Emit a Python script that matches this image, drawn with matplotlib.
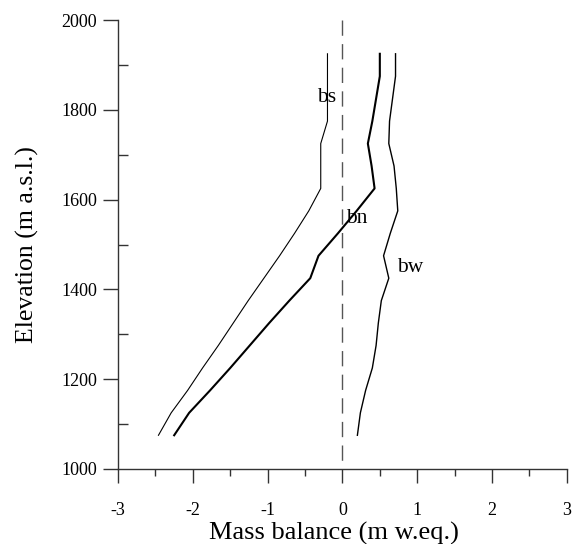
import matplotlib
matplotlib.use('Agg')
import matplotlib.pyplot as plt
from matplotlib.ticker import MultipleLocator

plt.rcParams['font.family'] = ['Liberation Serif', 'DejaVu Serif']

# elevation bands (m a.s.l.)
elev = [1075, 1125, 1175, 1225, 1275, 1325, 1375, 1425, 1475,
        1525, 1575, 1625, 1675, 1725, 1775, 1825, 1875, 1925]

# summer balance
bs = [-2.46, -2.29, -2.07, -1.87, -1.66, -1.46, -1.26, -1.05, -0.84,
      -0.64, -0.45, -0.29, -0.29, -0.29, -0.20, -0.20, -0.20, -0.20]
# net balance
bn = [-2.25, -2.05, -1.77, -1.50, -1.24, -0.98, -0.71, -0.43, -0.32,
      -0.06, 0.19, 0.43, 0.39, 0.34, 0.40, 0.45, 0.50, 0.50]
# winter balance
bw = [0.20, 0.24, 0.31, 0.40, 0.45, 0.48, 0.52, 0.62, 0.55,
      0.64, 0.74, 0.72, 0.69, 0.62, 0.63, 0.67, 0.71, 0.71]

fig = plt.figure(figsize=(5.76, 5.44), dpi=100)
ax = fig.add_axes([0.205, 0.138, 0.779, 0.825])

# zero line
ax.plot([0, 0], [2000, 1000], color='#555555', lw=1.0, dashes=(11, 6))

ax.plot(bs, elev, color='black', lw=0.8)
ax.plot(bn, elev, color='black', lw=1.5)
ax.plot(bw, elev, color='black', lw=1.0)

# curve labels
ax.text(-0.21, 1828, 'bs', fontsize=15.5, ha='center', va='center')
ax.text(0.19, 1557, 'bn', fontsize=15.5, ha='center', va='center')
ax.text(0.90, 1448, 'bw', fontsize=15.5, ha='center', va='center')

ax.set_xlim(-3, 3)
ax.set_ylim(1000, 2000)

ax.spines['top'].set_visible(False)
ax.spines['right'].set_visible(False)
for s in ['left', 'bottom']:
    ax.spines[s].set_color('#333333')
    ax.spines[s].set_linewidth(1.0)

ax.xaxis.set_major_locator(MultipleLocator(1))
ax.xaxis.set_minor_locator(MultipleLocator(0.5))
ax.yaxis.set_major_locator(MultipleLocator(200))
ax.yaxis.set_minor_locator(MultipleLocator(100))

ax.tick_params(axis='x', which='major', direction='out', length=10, width=1,
               color='#333333', labelsize=13, pad=14)
ax.tick_params(axis='x', which='minor', direction='out', length=5, width=1,
               color='#333333')
ax.tick_params(axis='y', which='major', direction='out', length=11, width=1,
               color='#333333', labelsize=13, pad=4)
ax.tick_params(axis='y', which='minor', direction='in', length=7, width=1,
               color='#333333')

ax.set_xticks([-3, -2, -1, 0, 1, 2, 3])
ax.set_xticklabels(['-3', '-2', '-1', '0', '1', '2', '3'])

ax.set_xlabel('Mass balance (m w.eq.)', fontsize=19, labelpad=2)
ax.xaxis.label.set_x(0.481)
ax.set_ylabel('Elevation (m a.s.l.)', fontsize=18.5, labelpad=16)

fig.savefig('out.png', dpi=100)
